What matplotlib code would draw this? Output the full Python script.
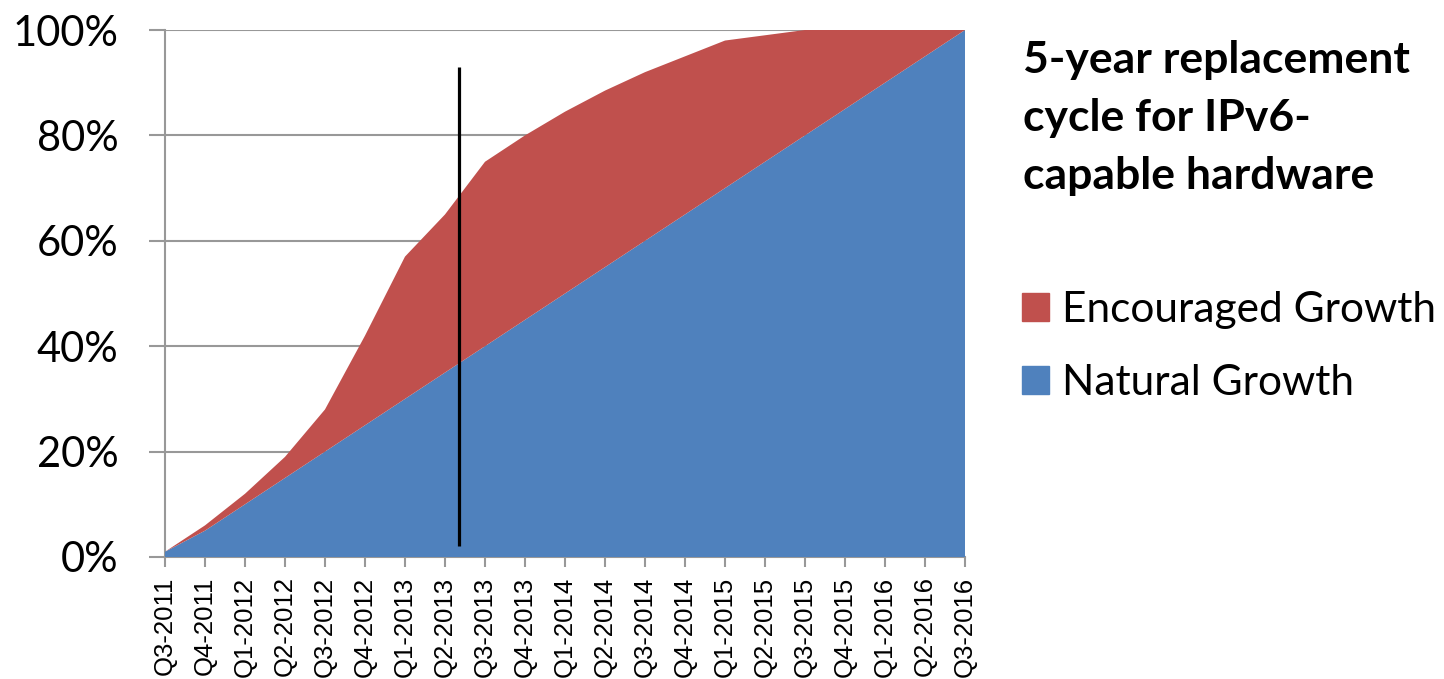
import numpy as np
import matplotlib
matplotlib.use('Agg')
from matplotlib import pyplot as plt
from matplotlib.patches import Patch

quarters = ['Q3-2011', 'Q4-2011', 'Q1-2012', 'Q2-2012', 'Q3-2012', 'Q4-2012',
            'Q1-2013', 'Q2-2013', 'Q3-2013', 'Q4-2013', 'Q1-2014', 'Q2-2014',
            'Q3-2014', 'Q4-2014', 'Q1-2015', 'Q2-2015', 'Q3-2015', 'Q4-2015',
            'Q1-2016', 'Q2-2016', 'Q3-2016']
natural = [1, 5, 10, 15, 20, 25, 30, 35, 40, 45, 50, 55, 60, 65, 70, 75,
           80, 85, 90, 95, 100]
# total share with encouragement; the red band is the part above natural
encouraged_total = [1, 6, 12, 19, 28, 42, 57, 65, 75, 80, 84.5, 88.5, 92, 95,
                    98, 99, 100, 100, 100, 100, 100]
yticks = [0, 20, 40, 60, 80, 100]

# marker for "now"
marker_x = 7.35
marker_y = (2, 93)

title = '5-year replacement\ncycle for IPv6-\ncapable hardware'
labels = ['Natural Growth', 'Encouraged Growth']
BLUE = '#4F81BD'
RED = '#C0504D'
GRID = '#989898'


def main():
    x = np.arange(len(quarters))
    nat = np.array(natural, dtype=float)
    extra = np.array(encouraged_total, dtype=float) - nat

    fig = plt.figure(figsize=(14.44, 6.79), dpi=100)
    ax = fig.add_axes([165 / 1444, 1 - 557 / 679, 800 / 1444, 527 / 679])

    ax.stackplot(x, nat, extra, colors=[BLUE, RED], linewidth=0)
    ax.plot([marker_x, marker_x], marker_y, color='black', lw=2.3,
            solid_capstyle='butt')

    ax.set_xlim(0, len(quarters) - 1)
    ax.set_ylim(0, 100)
    ax.set_xticks(x)
    ax.set_xticklabels(quarters, rotation=90, fontsize=18.5,
                       family='Liberation Sans')
    ax.set_yticks(yticks)
    ax.set_yticklabels(['{}%'.format(v) for v in yticks], fontsize=30,
                       family='Lato')
    ax.set_axisbelow(True)
    ax.grid(axis='y', color=GRID, lw=1.5)
    for side in ('top', 'right'):
        ax.spines[side].set_visible(False)
    for side in ('left', 'bottom'):
        ax.spines[side].set_color(GRID)
        ax.spines[side].set_linewidth(1.5)
        ax.spines[side].set_zorder(0.5)
    ax.tick_params(axis='y', length=11.5, width=1.5, color=GRID, pad=22)
    ax.tick_params(axis='x', length=7, width=1.5, color=GRID, pad=7)

    fig.text(1023 / 1444, 1 - 40 / 679, title, fontsize=32, weight='bold',
             family='Lato', va='top', ha='left', linespacing=1.55)

    handles = [Patch(color=RED), Patch(color=BLUE)]
    fig.legend(handles, labels[::-1], loc='upper left',
               bbox_to_anchor=(1005 / 1444, 1 - 274 / 679), frameon=False,
               prop={'family': 'Lato', 'size': 30.5},
               handlelength=0.65, handleheight=0.65, handletextpad=0.3,
               labelspacing=0.82, borderaxespad=0)

    fig.savefig('out.png', dpi=100)


if __name__ == '__main__':
    main()
